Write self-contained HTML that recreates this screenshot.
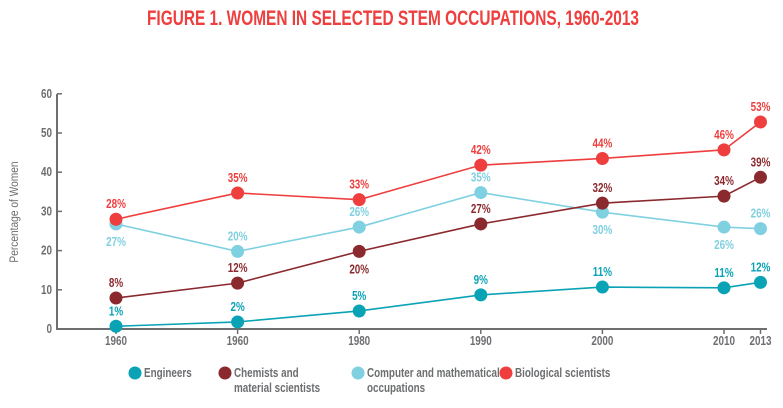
<!DOCTYPE html>
<html><head><meta charset="utf-8"><style>
body{margin:0;background:#fff;width:783px;height:403px;overflow:hidden}
text{font-family:"Liberation Sans Narrow","Liberation Sans",sans-serif}
</style></head><body>
<svg id="chart" width="783" height="403">
<text x="393" y="25" text-anchor="middle" font-size="21" font-weight="bold" fill="#ee3e3e" textLength="492" lengthAdjust="spacingAndGlyphs">FIGURE 1. WOMEN IN SELECTED STEM OCCUPATIONS, 1960-2013</text>
<text transform="translate(18,212) rotate(-90) scale(0.85,1)" text-anchor="middle" font-size="12" fill="#6d6e70">Percentage of Women</text>
<g id="axes"></g><g id="series"></g><g id="legend"></g>
</svg>
<script>
const categories=["1960","1960","1980","1990","2000","2010","2013"];
const xPos=[0,1,2,3,4,5,5.3];
const yTicks=[0,10,20,30,40,50,60];
const engineers=[0.7,1.8,4.6,8.7,10.7,10.5,11.9];
const chemists=[7.9,11.7,19.8,26.8,32.1,33.9,38.7];
const computer=[26.8,19.8,26,34.8,29.8,26,25.6];
const biological=[28,34.7,33,41.8,43.5,45.7,52.8];
const engLabels=["1%","2%","5%","9%","11%","11%","12%"];
const chemLabels=["8%","12%","20%","27%","32%","34%","39%"];
const compLabels=["27%","20%","26%","35%","30%","26%","26%"];
const bioLabels=["28%","35%","33%","42%","44%","46%","53%"];
const chemBelow=[0,0,1,0,0,0,0];
const compBelow=[1,0,0,0,1,1,0];
const NS="http://www.w3.org/2000/svg";
function X(i){return 116+xPos[i]*121.6;}
function Y(v){return 329-v*3.92;}
function mk(tag,attrs,parent){const e=document.createElementNS(NS,tag);for(const k in attrs)e.setAttribute(k,attrs[k]);parent.appendChild(e);return e;}
function txt(parent,x,y,str,anchor,color,size){
 const t=mk('text',{x:0,y:0,transform:'translate('+x+','+y+') scale(0.76,1)','text-anchor':anchor,'font-size':size||13,'font-weight':'bold',fill:color},parent);
 t.textContent=str;return t;
}
const axes=document.getElementById('axes');
const gray="#6d6e70";
let a=mk('line',{x1:57,y1:94,x2:57,y2:330,stroke:gray,'stroke-width':2},axes);


a=mk('line',{x1:56,y1:329,x2:767,y2:329,stroke:gray,'stroke-width':2},axes);


yTicks.forEach(t=>{
 mk('line',{x1:57,y1:Y(t),x2:62,y2:Y(t),stroke:gray,'stroke-width':1.5},axes);
 const tx=txt(axes,52,Y(t)+4,String(t),'end',gray);
 
 
});
categories.forEach((c,i)=>{
 mk('line',{x1:X(i),y1:329,x2:X(i),y2:334,stroke:gray,'stroke-width':1.5},axes);
 const tx=txt(axes,X(i),345,c,'middle',gray);
 
 
});
const sg=document.getElementById('series');
function series(vals,labels,below,color,name){
 const g=mk('g',{},sg);
 
 
 mk('polyline',{points:vals.map((v,i)=>X(i)+','+Y(v)).join(' '),fill:'none',stroke:color,'stroke-width':1.6},g);
 vals.forEach((v,i)=>{
  const c=mk('circle',{cx:X(i),cy:Y(v),r:6.5,fill:color},g);
  
  
  const t=txt(g,X(i),below[i]?Y(v)+22:Y(v)-11,labels[i],'middle',color);
  
  
 });
}
series(computer,compLabels,compBelow,"#7fd0e0","computer");
series(engineers,engLabels,[0,0,0,0,0,0,0],"#0aa3b5","engineers");
series(chemists,chemLabels,chemBelow,"#8b2a2e","chemists");
series(biological,bioLabels,[0,0,0,0,0,0,0],"#ee3e3e","biological");
const lg=document.getElementById('legend');
const items=[[135,"#0aa3b5",["Engineers"]],[225,"#8b2a2e",["Chemists and","material scientists"]],[358,"#7fd0e0",["Computer and mathematical","occupations"]],[506,"#ee3e3e",["Biological scientists"]]];
items.forEach(([x,col,lines])=>{
 const g=mk('g',{},lg);
 
 
 mk('circle',{cx:x,cy:373,r:6.5,fill:col},g);
 lines.forEach((l,k)=>{txt(g,x+9,377+k*15,l,'start',gray);});
});
</script>
</body></html>
